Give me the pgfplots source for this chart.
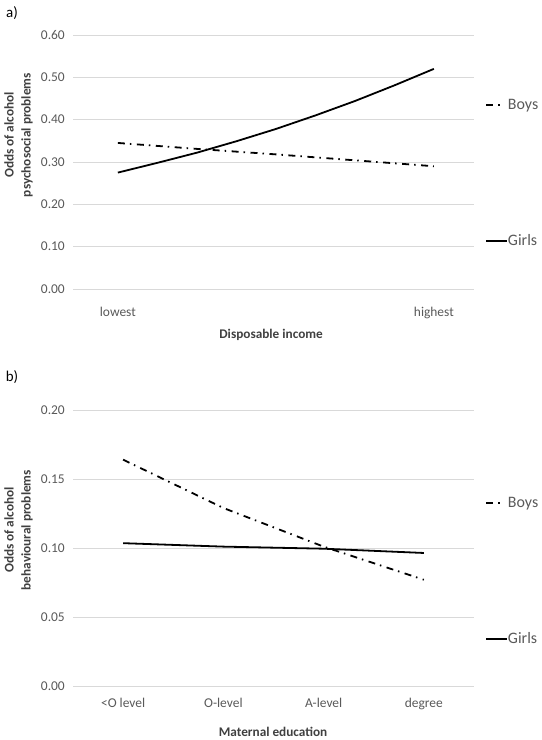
\documentclass[border=0pt]{standalone}
\usepackage{pgfplots}
\pgfplotsset{compat=1.18}
\usepackage{fontspec}
\setmainfont{Carlito}
\definecolor{txt}{HTML}{595959}
\definecolor{gridc}{HTML}{D9D9D9}
\definecolor{ttl}{HTML}{404040}
\begin{document}
\begin{tikzpicture}
\useasboundingbox (0bp,0bp) rectangle (542bp,-740bp);
\pgfplotsset{
  mystyle/.style={
    scale only axis, width=401bp, clip=false,
    axis line style={draw=none},
    tick style={draw=none},
    ymajorgrids, major grid style={gridc, line width=1bp},
    ymin=0,
    tick label style={font=\fontsize{13.5}{15}\selectfont, text=txt},
    yticklabel style={/pgf/number format/.cd, fixed, fixed zerofill, precision=2, assume math mode=true, /tikz/.cd, inner sep=0pt, xshift=-8bp},
    legend style={draw=none, fill=none, inner sep=0pt, column sep=0bp, font=\fontsize{16}{18}\selectfont, text=txt,
      nodes={inner sep=0pt, text height=11bp, text depth=3bp}, row sep=122bp},
    legend cell align=left,
    legend image code/.code={\draw[##1] (0bp,0bp) -- (21bp,0bp);},
    label style={font=\bfseries\fontsize{13.3}{17}\selectfont, text=ttl, align=center},
  },
  boys/.style={black, line width=1.8bp, dash pattern=on 7bp off 5bp on 1.5bp off 5.5bp,
    legend image code/.code={\draw[##1] (0bp,0bp) -- (14bp,0bp);}},
  girls/.style={black, line width=1.8bp},
}
% Panel a
\begin{axis}[mystyle,
  at={(73bp,-289bp)}, anchor=south west, height=254bp,
  xmin=-0.142, xmax=1.127, ymax=0.6,
  ytick={0,0.1,0.2,0.3,0.4,0.5,0.6},
  xtick={0,1}, xticklabels={lowest,highest},
  xticklabel style={inner sep=0pt, anchor=north, yshift=-18bp},
  xlabel={Disposable income},
  xlabel style={at={(axis description cs:0.494,-0.181)}, anchor=center},
  ylabel={Odds of alcohol\\psychosocial problems},
  ylabel style={at={(axis description cs:-0.136,0.606)}, anchor=center},
  legend style={at={(axis description cs:1.0274,0.752)}, anchor=north west},
]
\addplot[boys] coordinates {(0,0.345) (0.25,0.331) (0.5,0.318) (0.75,0.304) (1,0.290)};
\addlegendentry{Boys}
\addplot[girls] coordinates {(0,0.275) (0.125,0.298) (0.25,0.322) (0.375,0.349) (0.5,0.378) (0.625,0.410) (0.75,0.444) (0.875,0.481) (1,0.520)};
\addlegendentry{Girls}
\node[font=\fontsize{15}{17}\selectfont, anchor=center, text=black] at (axis description cs:-0.152,1.087) {a)};
\end{axis}
% Panel b
\begin{axis}[mystyle,
  at={(73bp,-686bp)}, anchor=south west, height=276bp,
  xmin=-0.5, xmax=3.5, ymax=0.2,
  ytick={0,0.05,0.1,0.15,0.2},
  xtick={0,1,2,3}, xticklabels={<O level,O-level,A-level,degree},
  xticklabel style={inner sep=0pt, anchor=north, yshift=-12bp},
  xlabel={Maternal education},
  xlabel style={at={(axis description cs:0.499,-0.1667)}, anchor=center},
  ylabel={Odds of alcohol\\behavioural problems},
  ylabel style={at={(axis description cs:-0.136,0.565)}, anchor=center},
  legend style={at={(axis description cs:1.0274,0.689)}, anchor=north west},
]
\addplot[boys] coordinates {(0,0.164) (1,0.129) (2,0.101) (3,0.077)};
\addlegendentry{Boys}
\addplot[girls] coordinates {(0,0.1035) (1,0.101) (2,0.0995) (3,0.0964)};
\addlegendentry{Girls}
\node[font=\fontsize{15}{17}\selectfont, anchor=center, text=black] at (axis description cs:-0.152,1.12) {b)};
\end{axis}
\end{tikzpicture}
\end{document}
